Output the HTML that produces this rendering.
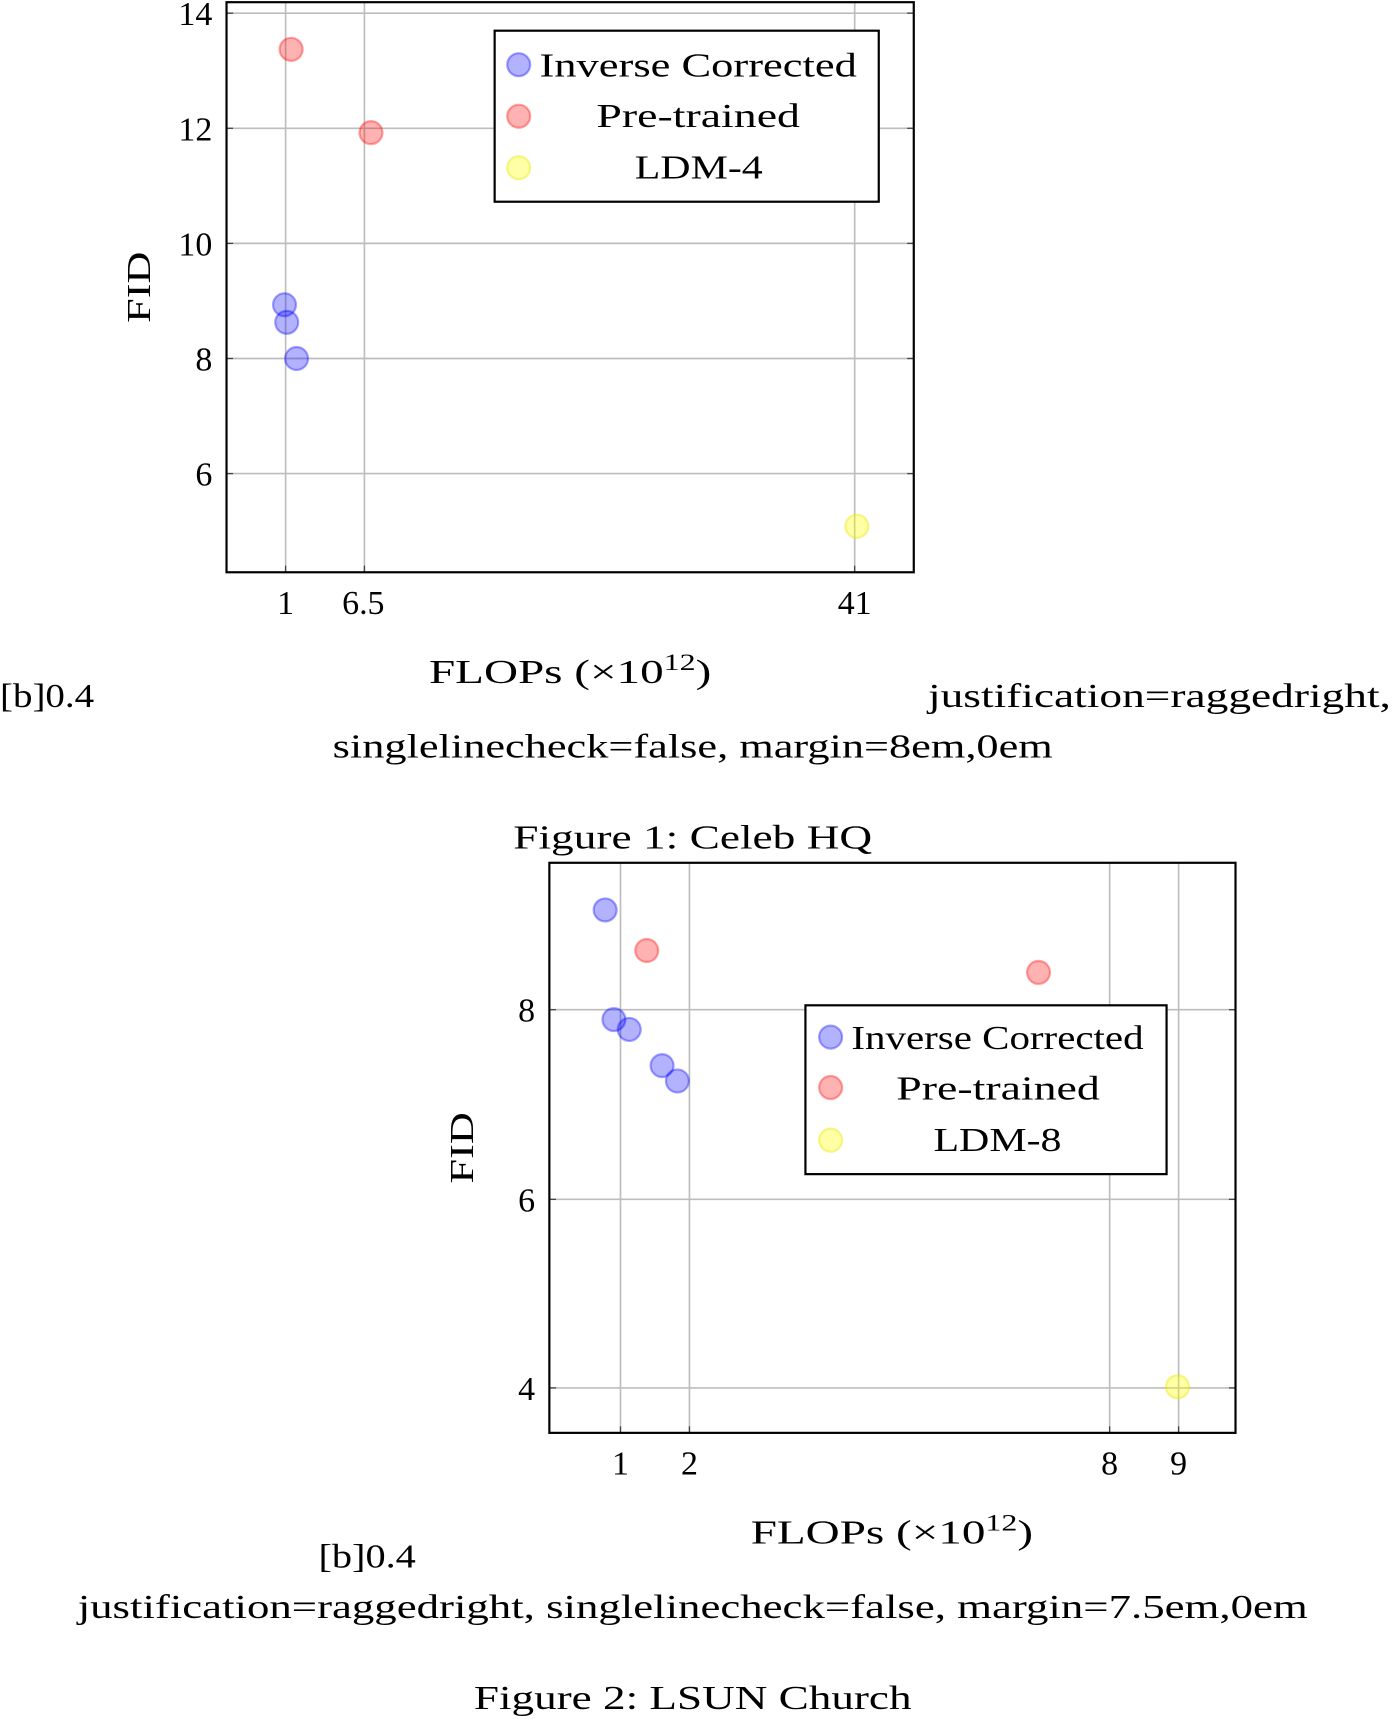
<!DOCTYPE html>
<html><head><meta charset="utf-8"><style>
html,body{margin:0;padding:0;background:#fff;}
svg{display:block;}
text{font-family:"Liberation Serif","DejaVu Serif",serif;font-size:31px;fill:#000;}
</style></head><body>
<svg width="1392" height="1719" viewBox="0 0 1272 1568" preserveAspectRatio="none" xmlns="http://www.w3.org/2000/svg">
<!-- Plot 1 -->
<g stroke="#bdbdbd" stroke-width="1.5">
<line x1="207" y1="12" x2="835" y2="12"/><line x1="207" y1="117" x2="835" y2="117"/>
<line x1="207" y1="222" x2="835" y2="222"/><line x1="207" y1="327" x2="835" y2="327"/>
<line x1="207" y1="432" x2="835" y2="432"/>
<line x1="261" y1="2" x2="261" y2="522"/><line x1="333" y1="2" x2="333" y2="522"/><line x1="781" y1="2" x2="781" y2="522"/>
</g>
<g stroke="#444" stroke-width="1.2">
<line x1="207" y1="12" x2="213" y2="12"/><line x1="829" y1="12" x2="835" y2="12"/>
<line x1="207" y1="117" x2="213" y2="117"/><line x1="829" y1="117" x2="835" y2="117"/>
<line x1="207" y1="222" x2="213" y2="222"/><line x1="829" y1="222" x2="835" y2="222"/>
<line x1="207" y1="327" x2="213" y2="327"/><line x1="829" y1="327" x2="835" y2="327"/>
<line x1="207" y1="432" x2="213" y2="432"/><line x1="829" y1="432" x2="835" y2="432"/>
<line x1="261" y1="516" x2="261" y2="522"/><line x1="333" y1="516" x2="333" y2="522"/><line x1="781" y1="516" x2="781" y2="522"/>
</g>
<rect x="207" y="2" width="628" height="520" fill="none" stroke="#000" stroke-width="2"/>
<g stroke-width="2">
<g fill="rgba(0,0,255,0.3)" stroke="rgba(0,0,255,0.35)">
<circle cx="260" cy="278" r="10.5"/><circle cx="262" cy="294" r="10.5"/><circle cx="271" cy="327" r="10.5"/></g>
<g fill="rgba(255,0,0,0.3)" stroke="rgba(255,0,0,0.35)">
<circle cx="266" cy="45" r="10.5"/><circle cx="339" cy="121" r="10.5"/></g>
<g fill="rgba(255,255,0,0.35)" stroke="rgba(230,230,0,0.4)"><circle cx="783" cy="480" r="10.5"/></g>
</g>
<rect x="452" y="28" width="351" height="156" fill="#fff" stroke="#000" stroke-width="2"/>
<g stroke-width="2">
<circle cx="474" cy="59" r="10.5" fill="rgba(0,0,255,0.3)" stroke="rgba(0,0,255,0.35)"/>
<circle cx="474" cy="106" r="10.5" fill="rgba(255,0,0,0.3)" stroke="rgba(255,0,0,0.35)"/>
<circle cx="474" cy="153" r="10.5" fill="rgba(255,255,0,0.35)" stroke="rgba(230,230,0,0.4)"/>
</g>
<text x="493" y="70" textLength="290" lengthAdjust="spacingAndGlyphs">Inverse Corrected</text>
<text x="545" y="116" textLength="186" lengthAdjust="spacingAndGlyphs">Pre-trained</text>
<text x="580" y="163" textLength="117" lengthAdjust="spacingAndGlyphs">LDM-4</text>
<g text-anchor="end"><text x="194" y="23">14</text><text x="194" y="128">12</text><text x="194" y="233">10</text><text x="194" y="338">8</text><text x="194" y="443">6</text></g>
<g text-anchor="middle"><text x="261" y="560">1</text><text x="332" y="560">6.5</text><text x="781" y="560">41</text></g>
<text transform="translate(137,262) rotate(-90)" text-anchor="middle" textLength="65" lengthAdjust="spacingAndGlyphs">FID</text>
<text x="392" y="623" textLength="258" lengthAdjust="spacingAndGlyphs">FLOPs (×10<tspan font-size="21" dy="-12">12</tspan><tspan dy="12">)</tspan></text>
<text x="0" y="645" textLength="86" lengthAdjust="spacingAndGlyphs">[b]0.4</text>
<text x="848" y="645" textLength="423" lengthAdjust="spacingAndGlyphs">justification=raggedright,</text>
<text x="304" y="691" textLength="658" lengthAdjust="spacingAndGlyphs">singlelinecheck=false, margin=8em,0em</text>
<text x="469" y="774" textLength="328" lengthAdjust="spacingAndGlyphs">Figure 1: Celeb HQ</text>
<!-- Plot 2 -->
<g stroke="#bdbdbd" stroke-width="1.5">
<line x1="502" y1="921" x2="1129" y2="921"/><line x1="502" y1="1094" x2="1129" y2="1094"/><line x1="502" y1="1266" x2="1129" y2="1266"/>
<line x1="567" y1="787" x2="567" y2="1307"/><line x1="630" y1="787" x2="630" y2="1307"/>
<line x1="1014" y1="787" x2="1014" y2="1307"/><line x1="1077" y1="787" x2="1077" y2="1307"/>
</g>
<g stroke="#444" stroke-width="1.2">
<line x1="502" y1="921" x2="508" y2="921"/><line x1="1123" y1="921" x2="1129" y2="921"/>
<line x1="502" y1="1094" x2="508" y2="1094"/><line x1="1123" y1="1094" x2="1129" y2="1094"/>
<line x1="502" y1="1266" x2="508" y2="1266"/><line x1="1123" y1="1266" x2="1129" y2="1266"/>
<line x1="567" y1="1301" x2="567" y2="1307"/><line x1="630" y1="1301" x2="630" y2="1307"/>
<line x1="1014" y1="1301" x2="1014" y2="1307"/><line x1="1077" y1="1301" x2="1077" y2="1307"/>
</g>
<rect x="502" y="787" width="627" height="520" fill="none" stroke="#000" stroke-width="2"/>
<g stroke-width="2">
<g fill="rgba(0,0,255,0.3)" stroke="rgba(0,0,255,0.35)">
<circle cx="553" cy="830" r="10.5"/><circle cx="561" cy="930" r="10.5"/><circle cx="575" cy="939" r="10.5"/><circle cx="605" cy="972" r="10.5"/><circle cx="619" cy="986" r="10.5"/></g>
<g fill="rgba(255,0,0,0.3)" stroke="rgba(255,0,0,0.35)">
<circle cx="591" cy="867" r="10.5"/><circle cx="949" cy="887" r="10.5"/></g>
<g fill="rgba(255,255,0,0.35)" stroke="rgba(230,230,0,0.4)"><circle cx="1076" cy="1265" r="10.5"/></g>
</g>
<rect x="736" y="917" width="330" height="154" fill="#fff" stroke="#000" stroke-width="2"/>
<g stroke-width="2">
<circle cx="759" cy="946" r="10.5" fill="rgba(0,0,255,0.3)" stroke="rgba(0,0,255,0.35)"/>
<circle cx="759" cy="992" r="10.5" fill="rgba(255,0,0,0.3)" stroke="rgba(255,0,0,0.35)"/>
<circle cx="759" cy="1040" r="10.5" fill="rgba(255,255,0,0.35)" stroke="rgba(230,230,0,0.4)"/>
</g>
<text x="778" y="957" textLength="267" lengthAdjust="spacingAndGlyphs">Inverse Corrected</text>
<text x="819" y="1003" textLength="186" lengthAdjust="spacingAndGlyphs">Pre-trained</text>
<text x="853" y="1050" textLength="117" lengthAdjust="spacingAndGlyphs">LDM-8</text>
<g text-anchor="end"><text x="489" y="932">8</text><text x="489" y="1105">6</text><text x="489" y="1277">4</text></g>
<g text-anchor="middle"><text x="567" y="1345">1</text><text x="630" y="1345">2</text><text x="1014" y="1345">8</text><text x="1077" y="1345">9</text></g>
<text transform="translate(432,1047) rotate(-90)" text-anchor="middle" textLength="65" lengthAdjust="spacingAndGlyphs">FID</text>
<text x="686" y="1408" textLength="258" lengthAdjust="spacingAndGlyphs">FLOPs (×10<tspan font-size="21" dy="-12">12</tspan><tspan dy="12">)</tspan></text>
<text x="291" y="1430" textLength="89" lengthAdjust="spacingAndGlyphs">[b]0.4</text>
<text x="71" y="1476" textLength="1124" lengthAdjust="spacingAndGlyphs">justification=raggedright, singlelinecheck=false, margin=7.5em,0em</text>
<text x="433" y="1559" textLength="400" lengthAdjust="spacingAndGlyphs">Figure 2: LSUN Church</text>
</svg>
</body></html>
